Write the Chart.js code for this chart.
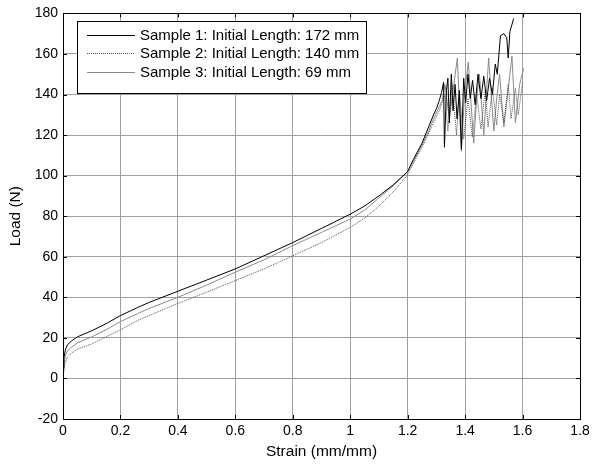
<!DOCTYPE html>
<html><head><meta charset="utf-8">
<script src="https://cdn.jsdelivr.net/npm/chart.js@4/dist/chart.umd.min.js"></script>
<style>html,body{margin:0;padding:0;background:#fff}#wrap{width:594px;height:468px}</style>
</head><body><div id="wrap"><canvas id="c" width="594" height="468"></canvas></div>
<script>
const seriesLabels = ["Sample 1: Initial Length: 172 mm","Sample 2: Initial Length: 140 mm","Sample 3: Initial Length: 69 mm"];
const xTicks = [0,0.2,0.4,0.6,0.8,1,1.2,1.4,1.6,1.8];
const yTicks = [-20,0,20,40,60,80,100,120,140,160,180];

const s1Strain = [0,0.003,0.008,0.015,0.03,0.05,0.1,0.15,0.2,0.26,0.3,0.4,0.5,0.6,0.7,0.8,0.9,1.0,1.05,1.1,1.15,1.2,1.22,1.25,1.27,1.29,1.3,1.31,1.318,1.325,1.328,1.335,1.34,1.345,1.352,1.358,1.365,1.372,1.38,1.387,1.395,1.402,1.41,1.418,1.426,1.435,1.445,1.455,1.465,1.475,1.485,1.495,1.505,1.512,1.523,1.535,1.545,1.55,1.556,1.569];
const s1Load   = [5,10,14,16.5,18.5,20.5,23.5,27,31,35,37.5,43,48.5,54,60.5,67,74,81,85,90,95.5,102,108,116,123,130,133,137,141,146,114,142,148,126,150,132,145,128,142,113,148,136,150,138,147,135,150,138,149,137,148,140,155,150,169,170,168,158,171,177.5];

const s2Strain = [0,0.003,0.008,0.015,0.03,0.05,0.1,0.15,0.2,0.26,0.3,0.4,0.5,0.6,0.7,0.8,0.9,1.0,1.05,1.1,1.15,1.2,1.22,1.25,1.27,1.29,1.31,1.32,1.33,1.34,1.355,1.37,1.38,1.395,1.41,1.425,1.44,1.455,1.47,1.48,1.495,1.51,1.52,1.535,1.55,1.56,1.575,1.585,1.6];
const s2Load   = [2,5,8,10.5,12.5,14.5,17,20.5,24,28.6,31,37,42.5,48.3,54,60.5,67,74.5,79,85,92,100.5,106,114,120,126,132,136,140,122,145,120,141,118,138,119,140,123,142,124,143,125,140,126,145,128,143,130,146];

const s3Strain = [0,0.003,0.008,0.015,0.03,0.05,0.1,0.15,0.2,0.26,0.3,0.4,0.5,0.6,0.7,0.8,0.9,1.0,1.05,1.1,1.15,1.2,1.22,1.25,1.27,1.29,1.31,1.32,1.33,1.345,1.373,1.387,1.398,1.411,1.43,1.44,1.45,1.465,1.482,1.5,1.51,1.52,1.535,1.548,1.563,1.575,1.59,1.604];
const s3Load   = [3,7,11,13.5,15.5,17.5,20.5,24,28,32,34.5,40,46,52.4,58.5,65.5,72,78.6,83,89,95,102,107,115,121,128,134,137,145,128,158,112,140,156,116,138,150,120,158,122,138,150,124,140,159,126,145,153];

function pts(xs, ys){ return xs.map((x,i)=>({x:x, y:ys[i]})); }
const FONT = '"Liberation Sans", Arial, sans-serif';

const frame = {
  id:'frame',
  afterDraw(chart){
    const {ctx, chartArea:a} = chart;
    ctx.save();
    ctx.strokeStyle='#000'; ctx.lineWidth=1;
    ctx.strokeRect(Math.round(a.left)+0.5, Math.round(a.top)+0.5, Math.round(a.right-a.left), Math.round(a.bottom-a.top));
    const xs = chart.scales.x, ys = chart.scales.y;
    ctx.beginPath();
    xTicks.forEach(v=>{ const px=Math.round(xs.getPixelForValue(v))+0.5;
      ctx.moveTo(px,a.bottom); ctx.lineTo(px,a.bottom-4); ctx.moveTo(px,a.top); ctx.lineTo(px,a.top+4); });
    yTicks.forEach(v=>{ const py=Math.round(ys.getPixelForValue(v))+0.5;
      ctx.moveTo(a.left,py); ctx.lineTo(a.left+4,py); ctx.moveTo(a.right,py); ctx.lineTo(a.right-4,py); });
    ctx.stroke();
    // legend box
    ctx.font='15px ' + FONT;
    let tw = 0;
    chart.data.datasets.forEach(d=>{ tw = Math.max(tw, ctx.measureText(d.label).width); });
    const bx=77.5, by=21.5, bh=72;
    const bw = Math.round(140 + tw + 7 - bx);
    ctx.fillStyle='#fff'; ctx.fillRect(bx,by,bw,bh);
    ctx.strokeStyle='#000'; ctx.strokeRect(bx,by,bw,bh);
    ctx.textBaseline='middle'; ctx.fillStyle='#000';
    chart.data.datasets.forEach((d,i)=>{
      const yy = 34.5 + i*18.7;
      ctx.save();
      ctx.strokeStyle=d.borderColor; ctx.lineWidth=1;
      ctx.setLineDash(d.borderDash||[]);
      ctx.beginPath(); ctx.moveTo(87,Math.round(yy)+0.5); ctx.lineTo(135,Math.round(yy)+0.5); ctx.stroke();
      ctx.restore();
      ctx.fillText(d.label, 140, yy+1);
    });
    ctx.restore();
  }
};

new Chart(document.getElementById('c'), {
  type:'line',
  data:{ datasets:[
    {label:seriesLabels[0], data:pts(s1Strain,s1Load), borderColor:'#000000', borderWidth:1, pointRadius:0, tension:0},
    {label:seriesLabels[1], data:pts(s2Strain,s2Load), borderColor:'#505050', borderWidth:1, borderDash:[1,1], pointRadius:0, tension:0},
    {label:seriesLabels[2], data:pts(s3Strain,s3Load), borderColor:'#8a8a8a', borderWidth:1, pointRadius:0, tension:0}
  ]},
  options:{
    responsive:false, animation:false, devicePixelRatio:1,
    layout:{padding:{left:0,top:12,right:14,bottom:0}},
    plugins:{legend:{display:false}, tooltip:{enabled:false}},
    scales:{
      x:{type:'linear', min:0, max:1.8,
        afterBuildTicks(s){ s.ticks = xTicks.map(v=>({value:v})); },
        afterFit(s){ s.height = 49; },
        grid:{color:'#a0a0a0', drawTicks:false, lineWidth:1},
        border:{display:false},
        ticks:{color:'#000', padding:4, maxRotation:0, font:{family:FONT, size:14},
          callback:(v)=>String(Number(v.toFixed(1)))},
        title:{display:true, text:'Strain (mm/mm)', color:'#000', padding:{top:0,bottom:7}, font:{family:FONT, size:15.5}}
      },
      y:{type:'linear', min:-20, max:180,
        afterBuildTicks(s){ s.ticks = yTicks.map(v=>({value:v})); },
        afterFit(s){ s.width = 63; },
        grid:{color:'#a0a0a0', drawTicks:false, lineWidth:1},
        border:{display:false},
        ticks:{color:'#000', padding:5, font:{family:FONT, size:14}},
        title:{display:true, text:'Load (N)', color:'#000', padding:{top:6,bottom:0}, font:{family:FONT, size:15.5}}
      }
    }
  },
  plugins:[frame]
});
</script></body></html>
